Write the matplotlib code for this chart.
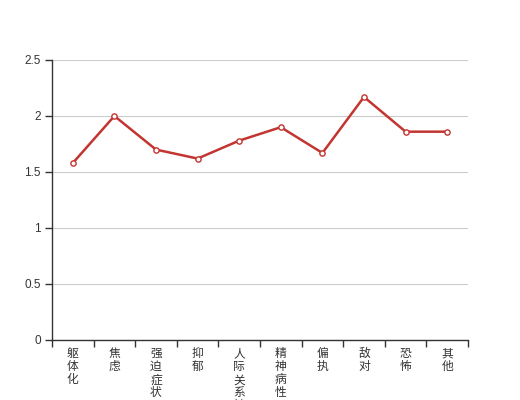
import matplotlib
matplotlib.use("Agg")
import matplotlib.pyplot as plt
from matplotlib.ticker import FixedLocator, FuncFormatter

plt.rcParams['font.family'] = ['Noto Sans CJK SC', 'DejaVu Sans']

categories = ["躯体化", "焦虑", "强迫症状", "抑郁", "人际关系敏感", "精神病性", "偏执", "敌对", "恐怖", "其他"]
values = [1.58, 2.0, 1.70, 1.62, 1.78, 1.90, 1.67, 2.17, 1.86, 1.86]
yticks = [0, 0.5, 1, 1.5, 2, 2.5]

fig = plt.figure(figsize=(5.2, 4.0), dpi=100)
ax = fig.add_axes([52/520, 60/400, 416/520, 280/400])

n = len(categories)
xs = list(range(n))
ax.plot(xs, values, color="#c23531", linewidth=1.8, marker="o", markersize=3.8,
        markerfacecolor="white", markeredgecolor="#c23531", markeredgewidth=1.0, zorder=3)

ax.set_xlim(-0.5, n - 0.5)
ax.set_ylim(0, 2.5)
ax.yaxis.set_major_locator(FixedLocator(yticks))
ax.yaxis.set_major_formatter(FuncFormatter(lambda v, p: f"{v:g}"))
ax.grid(axis="y", color="#cccccc", linewidth=0.8)
ax.set_axisbelow(True)

for s in ["top", "right"]:
    ax.spines[s].set_visible(False)
for s in ["left", "bottom"]:
    ax.spines[s].set_color("#333333")
    ax.spines[s].set_linewidth(1.0)

ax.tick_params(axis="y", length=5, width=1, color="#333333", labelcolor="#333333", labelsize=8.5, pad=3)
for lab in ax.get_yticklabels():
    lab.set_fontfamily(['Liberation Sans', 'DejaVu Sans'])

# x ticks at band boundaries, labels centered in bands
ax.set_xticks([i - 0.5 for i in range(n + 1)])
ax.set_xticklabels([])
ax.tick_params(axis="x", length=5, width=1, color="#333333")
for i, c in enumerate(categories):
    ax.text(i, -0.065, "\n".join(c), transform=ax.transData, ha="center", va="top",
            fontsize=8.5, color="#333333", linespacing=1.0, clip_on=False)

fig.savefig("out.png", dpi=100)
